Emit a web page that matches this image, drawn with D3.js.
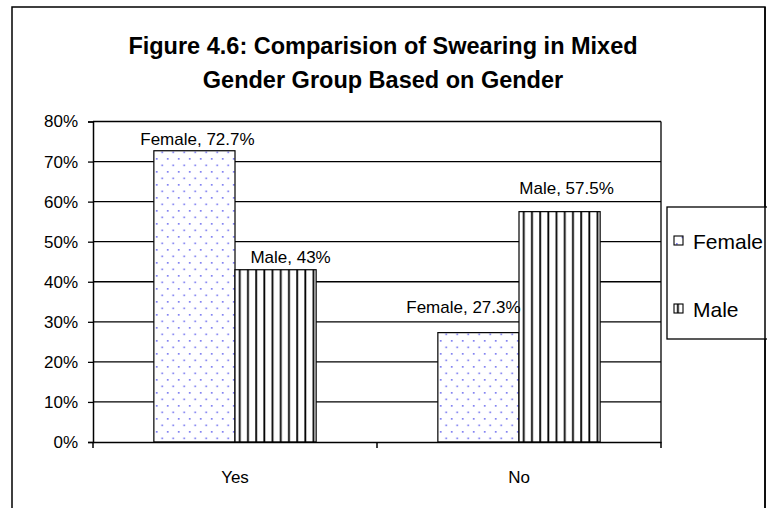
<!DOCTYPE html>
<html>
<head>
<meta charset="utf-8">
<script src="https://cdn.jsdelivr.net/npm/d3@7"></script>
<style>
  html, body { margin: 0; padding: 0; background: #fff; }
  svg { display: block; font-family: Arial, "Liberation Sans", sans-serif; }
</style>
</head>
<body>
<svg id="chart" width="767" height="508"></svg>
<script>
// Survey answers and the share of each gender giving them
const categories = ["Yes", "No"];
const seriesNames = ["Female", "Male"];
const femaleValues = [72.7, 27.3];
const maleValues = [43, 57.5];
const labelTexts = [["Female, 72.7%", "Male, 43%"], ["Female, 27.3%", "Male, 57.5%"]];
const yTicks = [0, 10, 20, 30, 40, 50, 60, 70, 80];
const titleLines = ["Figure 4.6: Comparision of Swearing in Mixed", "Gender Group Based on Gender"];

const svg = d3.select("#chart");

// hatch patterns for the two series
const defs = svg.append("defs");
const dots = defs.append("pattern").attr("id", "dots")
  .attr("patternUnits", "userSpaceOnUse").attr("width", 11).attr("height", 13);
dots.append("rect").attr("width", 11).attr("height", 13).attr("fill", "#fff");
dots.append("rect").attr("x", 2).attr("y", 2).attr("width", 1.7).attr("height", 1.7).attr("fill", "#7f7ff2");
dots.append("rect").attr("x", 7.5).attr("y", 8.5).attr("width", 1.7).attr("height", 1.7).attr("fill", "#7f7ff2");

const stripes = defs.append("pattern").attr("id", "stripes")
  .attr("patternUnits", "userSpaceOnUse").attr("width", 8.2).attr("height", 8);
stripes.append("rect").attr("width", 8.2).attr("height", 8).attr("fill", "#fff");
stripes.append("rect").attr("x", 3).attr("y", 0).attr("width", 1.8).attr("height", 8).attr("fill", "#000");

const fills = ["url(#dots)", "url(#stripes)"];

// outer chart frame
svg.append("rect").attr("x", 12).attr("y", 7).attr("width", 753).attr("height", 510)
  .attr("fill", "none").attr("stroke", "#000").attr("stroke-width", 1.5);

// title
svg.append("text").attr("x", 383).attr("text-anchor", "middle")
  .attr("font-weight", "bold").attr("font-size", 23.5).attr("fill", "#000")
  .selectAll("tspan").data(titleLines).join("tspan")
  .attr("x", 383).attr("y", (d, i) => 54 + i * 34).text(d => d);

// plot area
const plot = { left: 93, right: 661, top: 121.5, bottom: 442 };
const x = d3.scaleBand().domain(categories).range([plot.left, plot.right]);
const barW = x.bandwidth() / 3.5;
const xs = d3.scaleBand().domain(seriesNames).range([0, barW * 2]);
const y = d3.scaleLinear().domain([0, 80]).range([plot.bottom, plot.top]);

// gridlines
svg.append("g").selectAll("line").data(yTicks.filter(t => t > 0)).join("line")
  .attr("x1", plot.left).attr("x2", plot.right)
  .attr("y1", d => y(d)).attr("y2", d => y(d))
  .attr("stroke", "#000").attr("stroke-width", 1.3);
// right frame edge of the plot
svg.append("line").attr("x1", plot.right).attr("x2", plot.right)
  .attr("y1", plot.top).attr("y2", plot.bottom).attr("stroke", "#000").attr("stroke-width", 1.3);

// bars
const rows = categories.map((c, i) => ({ cat: c, vals: [femaleValues[i], maleValues[i]], labels: labelTexts[i] }));
const groups = svg.append("g").selectAll("g").data(rows).join("g")
  .attr("transform", d => `translate(${x(d.cat) + (x.bandwidth() - barW * 2) / 2},0)`);
groups.selectAll("rect").data(d => d.vals.map((v, j) => ({ v, j }))).join("rect")
  .attr("x", d => xs(seriesNames[d.j]))
  .attr("y", d => y(d.v))
  .attr("width", barW)
  .attr("height", d => plot.bottom - y(d.v))
  .attr("fill", d => fills[d.j])
  .attr("stroke", "#000").attr("stroke-width", 1.2);

// value labels, nudged off the bar centres
const labelShift = [[[3, -6], [15, -7]], [[-15, -20], [7, -18]]];
groups.each(function (d, i) {
  d3.select(this).selectAll("text").data(d.vals.map((v, j) => ({ v, j, t: d.labels[j] }))).join("text")
    .attr("x", e => xs(seriesNames[e.j]) + barW / 2 + labelShift[i][e.j][0])
    .attr("y", e => y(e.v) + labelShift[i][e.j][1])
    .attr("text-anchor", "middle").attr("font-size", 17).attr("fill", "#000")
    .text(e => e.t);
});

// y axis
const yAxis = svg.append("g").attr("transform", `translate(${plot.left},0)`)
  .call(d3.axisLeft(y).tickValues(yTicks).tickFormat(d => d + "%").tickSize(5).tickPadding(10));
yAxis.select(".domain").attr("stroke", "#000").attr("stroke-width", 1.5);
yAxis.selectAll(".tick line").attr("stroke", "#000").attr("stroke-width", 1.3);
yAxis.selectAll("text").attr("font-size", 17).attr("fill", "#000")
  .attr("font-family", "Arial, 'Liberation Sans', sans-serif");

// x axis
const xAxis = svg.append("g").attr("transform", `translate(0,${plot.bottom})`)
  .call(d3.axisBottom(x).tickSize(0).tickPadding(29));
xAxis.select(".domain").attr("stroke", "#000").attr("stroke-width", 1.5);
xAxis.selectAll("text").attr("font-size", 17).attr("fill", "#000")
  .attr("font-family", "Arial, 'Liberation Sans', sans-serif");
// category separators
const seps = [plot.left, ...categories.map(c => x(c) + x.bandwidth())];
svg.append("g").selectAll("line").data(seps).join("line")
  .attr("x1", d => d).attr("x2", d => d)
  .attr("y1", plot.bottom).attr("y2", plot.bottom + 6)
  .attr("stroke", "#000").attr("stroke-width", 1.5);

// legend
const legend = svg.append("g");
legend.append("rect").attr("x", 667).attr("y", 207).attr("width", 110).attr("height", 132)
  .attr("fill", "#fff").attr("stroke", "#000").attr("stroke-width", 1.3);
const items = legend.selectAll("g.item").data(seriesNames).join("g").attr("class", "item")
  .attr("transform", (d, i) => `translate(674,${241 + i * 68})`);
items.append("rect").attr("x", 0).attr("y", -5).attr("width", 9).attr("height", 9)
  .attr("fill", (d, i) => fills[i]).attr("stroke", "#000").attr("stroke-width", 1.1);
items.append("text").attr("x", 19).attr("y", 7.5).attr("font-size", 21).attr("fill", "#000")
  .text(d => d);
// chart frame drawn over the clipped legend edge
svg.append("line").attr("x1", 765).attr("x2", 765).attr("y1", 7).attr("y2", 508)
  .attr("stroke", "#000").attr("stroke-width", 1.5);
</script>
</body>
</html>
